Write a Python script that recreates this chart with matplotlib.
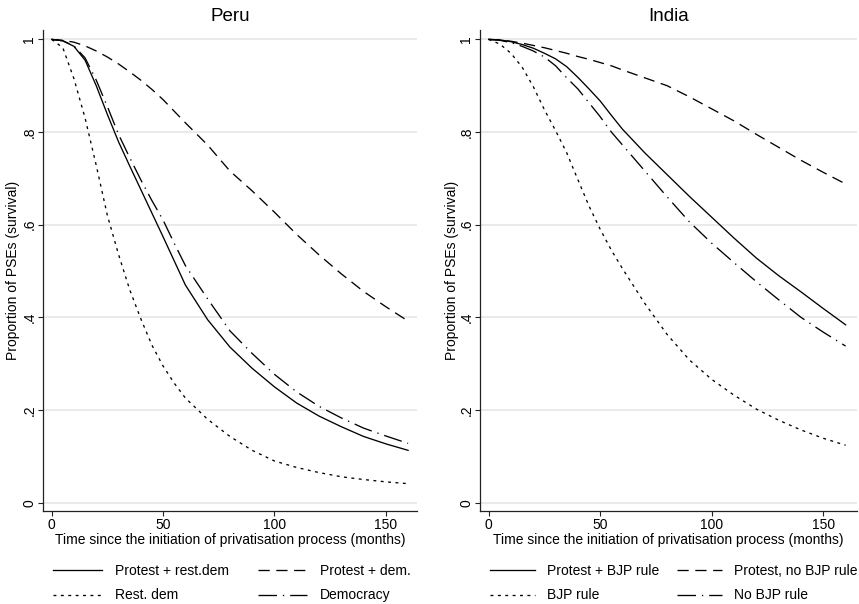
import matplotlib
matplotlib.use("Agg")
import matplotlib.pyplot as plt

plt.rcParams['font.family'] = ['Liberation Sans', 'DejaVu Sans']

# ---------------- data ----------------
months = [0, 5, 10, 15, 20, 25, 30, 35, 40, 45, 50, 55, 60,
          70, 80, 90, 100, 110, 120, 130, 140, 150, 160]

# Peru
peru_protest_restdem = [1.0, 0.997, 0.985, 0.955, 0.900, 0.838, 0.779, 0.727, 0.676, 0.625, 0.574, 0.522, 0.470,
                        0.395, 0.336, 0.290, 0.250, 0.215, 0.187, 0.164, 0.143, 0.127, 0.113]
peru_protest_dem = [1.0, 0.998, 0.994, 0.986, 0.975, 0.962, 0.947, 0.930, 0.912, 0.892, 0.870, 0.845, 0.820,
                    0.772, 0.716, 0.673, 0.627, 0.579, 0.535, 0.494, 0.456, 0.423, 0.392]
peru_restdem = [1.0, 0.982, 0.915, 0.830, 0.728, 0.620, 0.536, 0.460, 0.397, 0.340, 0.295, 0.258, 0.226,
                0.180, 0.143, 0.113, 0.090, 0.076, 0.065, 0.056, 0.050, 0.045, 0.041]
peru_democracy = [1.0, 0.997, 0.986, 0.960, 0.912, 0.855, 0.795, 0.745, 0.697, 0.652, 0.610, 0.560, 0.512,
                  0.440, 0.371, 0.322, 0.277, 0.239, 0.208, 0.183, 0.161, 0.144, 0.128]

# India
india_protest_bjp = [1.0, 0.999, 0.995, 0.989, 0.981, 0.970, 0.958, 0.941, 0.918, 0.893, 0.867, 0.836, 0.806,
                     0.755, 0.708, 0.661, 0.616, 0.571, 0.528, 0.490, 0.455, 0.419, 0.384]
india_protest_nobjp = [1.0, 0.999, 0.996, 0.992, 0.987, 0.982, 0.976, 0.970, 0.963, 0.957, 0.950, 0.943, 0.934,
                       0.917, 0.900, 0.876, 0.850, 0.824, 0.795, 0.767, 0.739, 0.713, 0.688]
india_bjp = [1.0, 0.990, 0.970, 0.940, 0.898, 0.848, 0.803, 0.755, 0.697, 0.640, 0.590, 0.545, 0.505,
             0.430, 0.363, 0.308, 0.266, 0.232, 0.202, 0.178, 0.157, 0.139, 0.124]
india_nobjp = [1.0, 0.998, 0.993, 0.985, 0.975, 0.962, 0.943, 0.917, 0.893, 0.863, 0.833, 0.800, 0.772,
               0.716, 0.660, 0.606, 0.560, 0.518, 0.477, 0.438, 0.400, 0.368, 0.338]

peru_labels = ["Protest + rest.dem", "Protest + dem.", "Rest. dem", "Democracy"]
india_labels = ["Protest + BJP rule", "Protest, no BJP rule", "BJP rule", "No BJP rule"]

yticks = [0, 0.2, 0.4, 0.6, 0.8, 1.0]
ytick_labels = ["0", ".2", ".4", ".6", ".8", "1"]
xticks = [0, 50, 100, 150]
xtick_labels = ["0", "50", "100", "150"]

xlabel = "Time since the initiation of privatisation process (months)"
ylabel = "Proportion of PSEs (survival)"

# ---------------- styles ----------------
LW = 0.95
styles = {
    "solid": "-",
    "dashed": (0, (8.5, 5.0)),
    "dotted": (0, (2.2, 3.4)),
    "dashdot": (0, (14.0, 4.5, 1.0, 4.5)),
}
SPINE = "#222222"
GRID = "#e8e8e8"

W, H = 859, 604
fig = plt.figure(figsize=(W / 100, H / 100), dpi=100)


def px_axes(l, t, r, b):
    return [l / W, 1 - b / H, (r - l) / W, (b - t) / H]


def setup(ax, title, xlim):
    ax.set_xlim(*xlim)
    ax.set_ylim(-0.0173, 1.0203)
    for s in ("top", "right"):
        ax.spines[s].set_visible(False)
    for s in ("left", "bottom"):
        ax.spines[s].set_color(SPINE)
        ax.spines[s].set_linewidth(0.9)
    ax.set_yticks(yticks)
    ax.set_yticklabels(ytick_labels)
    ax.set_xticks(xticks)
    ax.set_xticklabels(xtick_labels)
    ax.tick_params(axis="both", direction="out", length=3.6, width=0.8, color=SPINE,
                   labelsize=10, labelcolor="black")
    ax.tick_params(axis="x", pad=2.0)
    ax.tick_params(axis="y", pad=1.0)
    for lbl in ax.get_yticklabels():
        lbl.set_rotation(90)
        lbl.set_va("center")
        lbl.set_ha("right")
    ax.grid(axis="y", color=GRID, linewidth=1.3)
    ax.set_axisbelow(True)
    ax.set_title(title, fontsize=13.5, pad=6.8)
    ax.set_xlabel(xlabel, fontsize=10)
    ax.xaxis.set_label_coords(0.5, -0.046)
    ax.set_ylabel(ylabel, fontsize=10)


ax1 = fig.add_axes(px_axes(42.7, 30, 417, 510.7))
ax2 = fig.add_axes(px_axes(479.7, 30, 857, 510.7))

setup(ax1, "Peru", (-4.04, 164.0))
setup(ax2, "India", (-4.03, 165.1))
ax1.yaxis.set_label_coords(-0.0606, 0.5)
ax2.yaxis.set_label_coords(-0.055, 0.5)

# Peru lines
l1, = ax1.plot(months, peru_protest_restdem, color="black", lw=LW, linestyle=styles["solid"])
l2, = ax1.plot(months, peru_protest_dem, color="black", lw=LW, linestyle=styles["dashed"])
l3, = ax1.plot(months, peru_restdem, color="black", lw=LW, linestyle=styles["dotted"])
l4, = ax1.plot(months, peru_democracy, color="black", lw=LW, linestyle=styles["dashdot"])

# India lines
m1, = ax2.plot(months, india_protest_bjp, color="black", lw=LW, linestyle=styles["solid"])
m2, = ax2.plot(months, india_protest_nobjp, color="black", lw=LW, linestyle=styles["dashed"])
m3, = ax2.plot(months, india_bjp, color="black", lw=LW, linestyle=styles["dotted"])
m4, = ax2.plot(months, india_nobjp, color="black", lw=LW, linestyle=styles["dashdot"])

common = dict(ncol=2, frameon=False, fontsize=10,
              borderpad=0, borderaxespad=0, labelspacing=0.75, loc="upper left",
              bbox_transform=fig.transFigure)

ax1.legend([l1, l3, l2, l4], [peru_labels[0], peru_labels[2], peru_labels[1], peru_labels[3]],
           bbox_to_anchor=(53 / W, 1 - 564 / H), columnspacing=2.1,
           handlelength=3.5, handletextpad=0.95, **common)
ax2.legend([m1, m3, m2, m4], [india_labels[0], india_labels[2], india_labels[1], india_labels[3]],
           bbox_to_anchor=(490 / W, 1 - 564 / H), columnspacing=1.3,
           handlelength=3.25, handletextpad=0.85, **common)

fig.savefig("out.png", dpi=100)
